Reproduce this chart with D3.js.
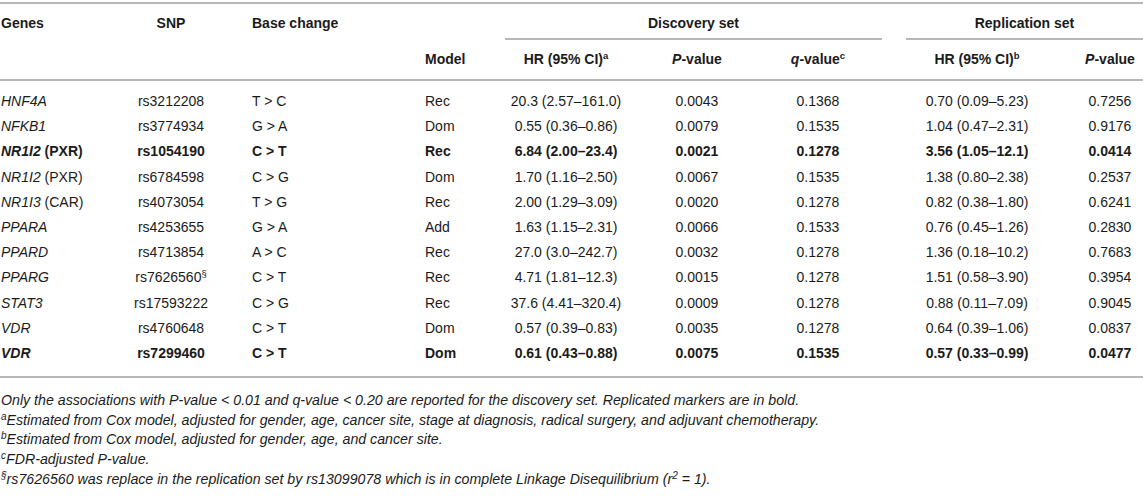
<!DOCTYPE html>
<html>
<head>
<meta charset="utf-8">
<script src="https://cdn.jsdelivr.net/npm/d3@7"></script>
<style>
  body { margin: 0; background: #fff; }
  svg text { font-family: "Liberation Sans", Arial, sans-serif; fill: #1b1b1b; }
</style>
</head>
<body>
<div id="table"></div>
<script>
// table content
var genes = ["HNF4A", "NFKB1", "NR1I2", "NR1I2", "NR1I3", "PPARA", "PPARD", "PPARG", "STAT3", "VDR", "VDR"];
var geneNote = ["", "", "(PXR)", "(PXR)", "(CAR)", "", "", "", "", "", ""];
var snps = ["rs3212208", "rs3774934", "rs1054190", "rs6784598", "rs4073054", "rs4253655", "rs4713854", "rs7626560", "rs17593222", "rs4760648", "rs7299460"];
var snpMark = ["", "", "", "", "", "", "", "§", "", "", ""];
var baseChange = ["T > C", "G > A", "C > T", "C > G", "T > G", "G > A", "A > C", "C > T", "C > G", "C > T", "C > T"];
var models = ["Rec", "Dom", "Rec", "Dom", "Rec", "Add", "Rec", "Rec", "Rec", "Dom", "Dom"];
var hrDiscovery = ["20.3 (2.57–161.0)", "0.55 (0.36–0.86)", "6.84 (2.00–23.4)", "1.70 (1.16–2.50)", "2.00 (1.29–3.09)", "1.63 (1.15–2.31)", "27.0 (3.0–242.7)", "4.71 (1.81–12.3)", "37.6 (4.41–320.4)", "0.57 (0.39–0.83)", "0.61 (0.43–0.88)"];
var pDiscovery = ["0.0043", "0.0079", "0.0021", "0.0067", "0.0020", "0.0066", "0.0032", "0.0015", "0.0009", "0.0035", "0.0075"];
var qDiscovery = ["0.1368", "0.1535", "0.1278", "0.1535", "0.1278", "0.1533", "0.1278", "0.1278", "0.1278", "0.1278", "0.1535"];
var hrReplication = ["0.70 (0.09–5.23)", "1.04 (0.47–2.31)", "3.56 (1.05–12.1)", "1.38 (0.80–2.38)", "0.82 (0.38–1.80)", "0.76 (0.45–1.26)", "1.36 (0.18–10.2)", "1.51 (0.58–3.90)", "0.88 (0.11–7.09)", "0.64 (0.39–1.06)", "0.57 (0.33–0.99)"];
var pReplication = ["0.7256", "0.9176", "0.0414", "0.2537", "0.6241", "0.2830", "0.7683", "0.3954", "0.9045", "0.0837", "0.0477"];
var replicated = [false, false, true, false, false, false, false, false, false, false, true];

var footnotes = [
  [["", "Only the associations with P-value < 0.01 and q-value < 0.20 are reported for the discovery set. Replicated markers are in bold."]],
  [["a", "Estimated from Cox model, adjusted for gender, age, cancer site, stage at diagnosis, radical surgery, and adjuvant chemotherapy."]],
  [["b", "Estimated from Cox model, adjusted for gender, age, and cancer site."]],
  [["c", "FDR-adjusted P-value."]],
  [["§", "rs7626560 was replace in the replication set by rs13099078 which is in complete Linkage Disequilibrium (r"], ["2", " = 1)."]]
];

var W = 1143, H = 496;
var lineColor = "#a0a0a0";
var fs = 14;

var svg = d3.select("#table").append("svg")
  .attr("width", W).attr("height", H);

// column positions
var cols = {
  genes: { x: 1, anchor: "start" },
  snp: { x: 171, anchor: "middle" },
  base: { x: 252, anchor: "start" },
  model: { x: 425, anchor: "start" },
  hrD: { x: 566, anchor: "middle" },
  pD: { x: 697, anchor: "middle" },
  qD: { x: 818, anchor: "middle" },
  hrR: { x: 977, anchor: "middle" },
  pR: { x: 1110, anchor: "middle" }
};
var discSpan = [505, 882], repSpan = [906, W];

var rowY = d3.scalePoint().domain(d3.range(genes.length)).range([101, 353]);

function hline(y, x1, x2) {
  svg.append("line").attr("x1", x1).attr("x2", x2).attr("y1", y).attr("y2", y)
    .attr("stroke", lineColor).attr("stroke-width", 1.5);
}

hline(3, 0, W);
hline(39, discSpan[0], discSpan[1]);
hline(39, repSpan[0], repSpan[1]);
hline(80, 0, W);
hline(377, 0, W);

// parts: [text, italic, sup]
function cell(col, y, parts, bold) {
  var t = svg.append("text")
    .attr("x", cols[col].x).attr("y", y)
    .attr("dy", "0.35em")
    .attr("text-anchor", cols[col].anchor)
    .attr("font-size", fs)
    .attr("font-weight", bold ? "bold" : "normal");
  parts.forEach(function(p) {
    var s = t.append("tspan").text(p[0]);
    if (p[1]) s.attr("font-style", "italic");
    if (p[2]) s.attr("font-size", fs * 0.68).attr("baseline-shift", "super");
  });
  return t;
}

var h1 = 23, h2 = 59;
cell("genes", h1, [["Genes"]], true);
cell("snp", h1, [["SNP"]], true);
cell("base", h1, [["Base change"]], true);
svg.append("text").attr("x", d3.mean(discSpan)).attr("y", h1).attr("dy", "0.35em")
  .attr("text-anchor", "middle").attr("font-size", fs).attr("font-weight", "bold").text("Discovery set");
svg.append("text").attr("x", d3.mean(repSpan)).attr("y", h1).attr("dy", "0.35em")
  .attr("text-anchor", "middle").attr("font-size", fs).attr("font-weight", "bold").text("Replication set");

cell("model", h2, [["Model"]], true);
cell("hrD", h2, [["HR (95% CI)"], ["a", false, true]], true);
cell("pD", h2, [["P", true], ["-value"]], true);
cell("qD", h2, [["q", true], ["-value"], ["c", false, true]], true);
cell("hrR", h2, [["HR (95% CI)"], ["b", false, true]], true);
cell("pR", h2, [["P", true], ["-value"]], true);

// body rows
d3.range(genes.length).forEach(function(i) {
  var y = rowY(i), b = replicated[i];
  var gp = [[genes[i], true]];
  if (geneNote[i]) gp.push([" " + geneNote[i]]);
  cell("genes", y, gp, b);
  var sp = [[snps[i]]];
  if (snpMark[i]) sp.push([snpMark[i], false, true]);
  cell("snp", y, sp, b);
  cell("base", y, [[baseChange[i]]], b);
  cell("model", y, [[models[i]]], b);
  cell("hrD", y, [[hrDiscovery[i]]], b);
  cell("pD", y, [[pDiscovery[i]]], b);
  cell("qD", y, [[qDiscovery[i]]], b);
  cell("hrR", y, [[hrReplication[i]]], b);
  cell("pR", y, [[pReplication[i]]], b);
});

// footnotes
var noteY = d3.scalePoint().domain(d3.range(footnotes.length)).range([400, 479]);
footnotes.forEach(function(f, i) {
  var t = svg.append("text").attr("x", 1).attr("y", noteY(i)).attr("dy", "0.35em")
    .attr("font-size", 14.2).attr("font-style", "italic");
  f.forEach(function(seg) {
    if (seg[0]) t.append("tspan").text(seg[0]).attr("font-size", 10).attr("baseline-shift", "super");
    t.append("tspan").text(seg[1]);
  });
});
</script>
</body>
</html>
